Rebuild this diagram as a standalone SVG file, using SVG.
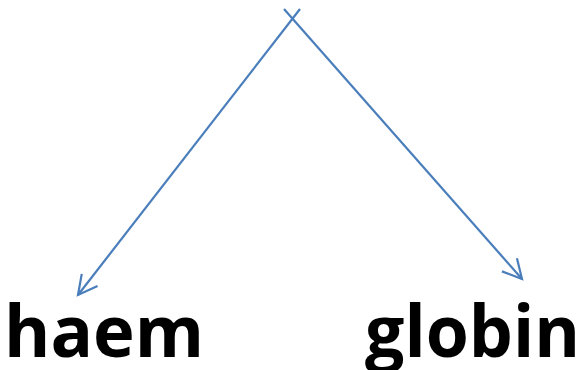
<svg xmlns="http://www.w3.org/2000/svg" width="587" height="370" viewBox="0 0 587 370">
<defs>
<style>
.conn{stroke:#4A7EBB;stroke-width:2.2;fill:none}
.lbl{font-family:"Open Sans","Liberation Sans",sans-serif;font-weight:bold;font-size:71px;fill:#000}
</style>
<marker id="arr" viewBox="0 0 12 12" refX="11" refY="6" markerWidth="12" markerHeight="12" markerUnits="userSpaceOnUse" orient="auto" overflow="visible">
<path d="M-8,-4 L11,6 L-8,16" fill="none" stroke="#4A7EBB" stroke-width="2.2"/>
</marker>
</defs>
<rect width="587" height="370" fill="#fff"/>
<g id="connectors">
<line class="conn" x1="300" y1="9" x2="78" y2="295" marker-end="url(#arr)"/>
<line class="conn" x1="284" y1="9" x2="522" y2="279" marker-end="url(#arr)"/>
</g>
<g id="haem"><text class="lbl" x="4" y="357" textLength="200" lengthAdjust="spacingAndGlyphs">haem</text></g>
<g id="globin"><text class="lbl" x="365" y="357" textLength="215" lengthAdjust="spacingAndGlyphs">globin</text></g>
</svg>
